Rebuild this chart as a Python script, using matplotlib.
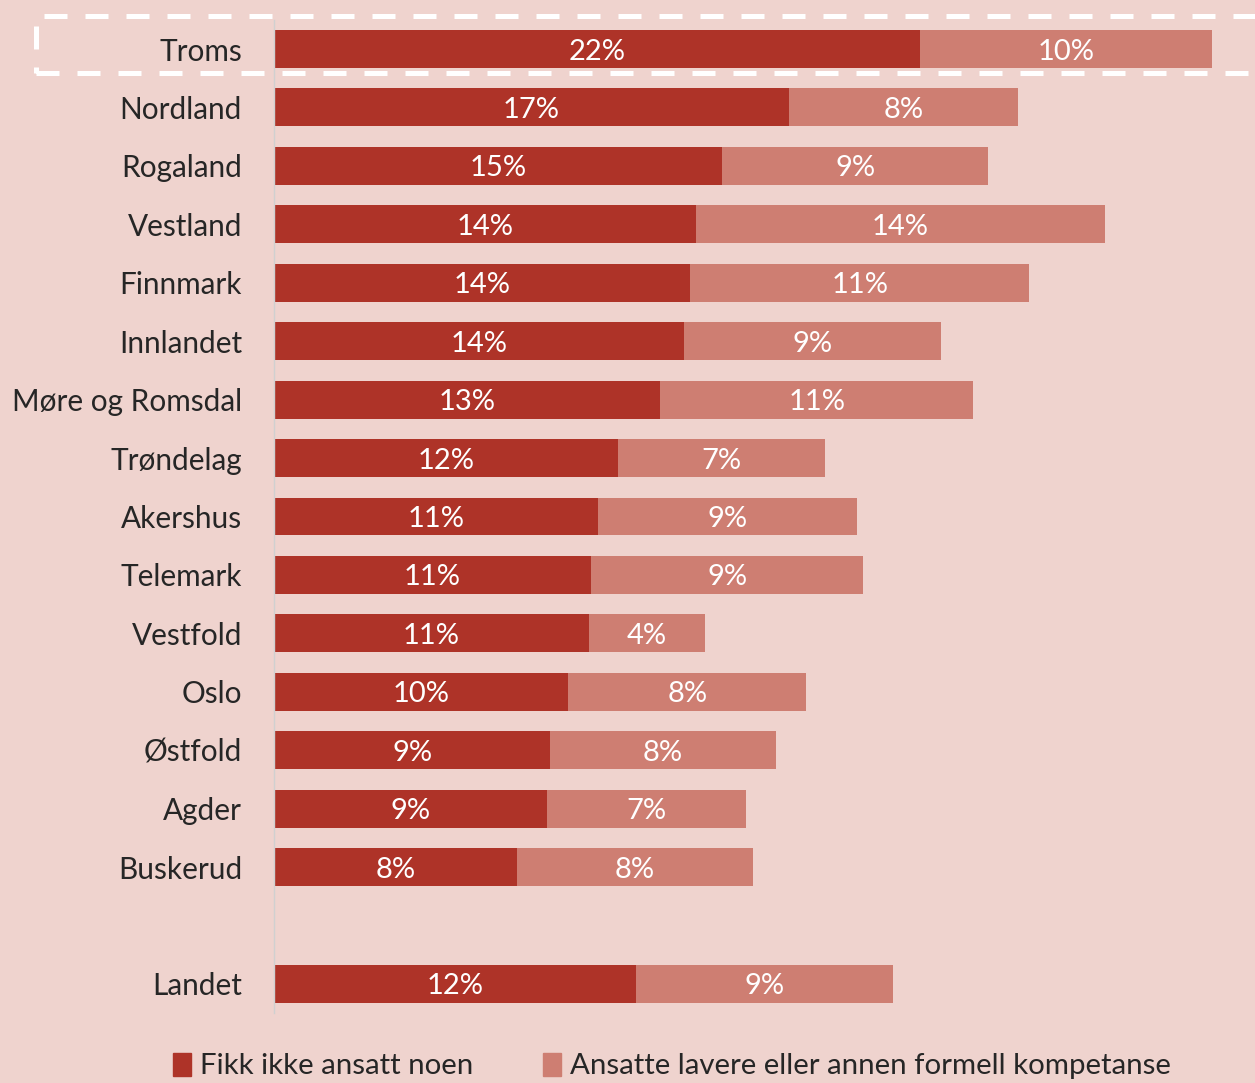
import matplotlib
matplotlib.use("Agg")
import matplotlib.pyplot as plt
from matplotlib.patches import Rectangle, Patch
import numpy as np

plt.rcParams['font.family'] = ['Lato', 'DejaVu Sans']

categories = ["Troms", "Nordland", "Rogaland", "Vestland", "Finnmark", "Innlandet",
              "Møre og Romsdal", "Trøndelag", "Akershus", "Telemark", "Vestfold",
              "Oslo", "Østfold", "Agder", "Buskerud", "Landet"]
fikk_ikke = [21.9, 17.45, 15.2, 14.3, 14.1, 13.9, 13.1, 11.66, 10.98, 10.75, 10.68,
             9.97, 9.36, 9.25, 8.24, 12.27]
ansatte_lavere = [9.9, 7.76, 9.0, 13.86, 11.5, 8.7, 10.6, 7.02, 8.78, 9.22, 3.93,
                  8.07, 7.66, 6.75, 8.0, 8.71]
labels_red = ["22%", "17%", "15%", "14%", "14%", "14%", "13%", "12%", "11%", "11%",
              "11%", "10%", "9%", "9%", "8%", "12%"]
labels_pink = ["10%", "8%", "9%", "14%", "11%", "9%", "11%", "7%", "9%", "9%",
               "4%", "8%", "8%", "7%", "8%", "9%"]
legend_labels = ["Fikk ikke ansatt noen", "Ansatte lavere eller annen formell kompetanse"]

RED = "#AE3328"
PINK = "#CE7E72"
BG = "#EFD3CE"

W, H = 1255, 1083
fig = plt.figure(figsize=(W / 100, H / 100), dpi=100, facecolor=BG)
ax = fig.add_axes([274 / W, 1 - 1013.2 / H, 981 / W, 993.4 / H])
ax.set_facecolor(BG)

ypos = list(range(15)) + [16]
ax.barh(ypos, fikk_ikke, height=0.65, color=RED, label=legend_labels[0])
ax.barh(ypos, ansatte_lavere, left=fikk_ikke, height=0.65, color=PINK,
        label=legend_labels[1])

for y, r, p, lr, lp in zip(ypos, fikk_ikke, ansatte_lavere, labels_red, labels_pink):
    ax.text(r / 2, y, lr, color="white", ha="center", va="center_baseline", fontsize=21)
    ax.text(r + p / 2, y, lp, color="white", ha="center", va="center_baseline", fontsize=21)

ax.set_xlim(0, 33.25)
ax.set_ylim(16.5, -0.5)
ax.set_yticks(ypos)
ax.set_yticklabels(categories, fontsize=21.4, color="#262626")
ax.set_xticks([])
ax.tick_params(axis="y", length=0, pad=23)
for s in ["top", "right", "bottom"]:
    ax.spines[s].set_visible(False)
ax.spines["left"].set_color("#D0D0D0")
ax.spines["left"].set_linewidth(1.0)

# dashed highlight box around Troms
lw = 3.6
rect = Rectangle((36 / W, 1 - 73 / H), (1262 - 36) / W, (73 - 16) / H,
                 transform=fig.transFigure, fill=False, edgecolor="white",
                 linewidth=lw, linestyle=(0, (4.6, 3.6)), clip_on=False)
fig.patches.append(rect)

handles = [Patch(color=RED), Patch(color=PINK)]
fig.legend(handles, legend_labels, loc="center left",
           bbox_to_anchor=(173 / W, 1 - 1066 / H), ncol=2, frameon=False,
           fontsize=21.2, handlelength=0.6, handleheight=0.85, handletextpad=0.3,
           columnspacing=2.4, labelcolor="#262626", borderpad=0, borderaxespad=0)

fig.savefig("out.png", dpi=100, facecolor=BG)
